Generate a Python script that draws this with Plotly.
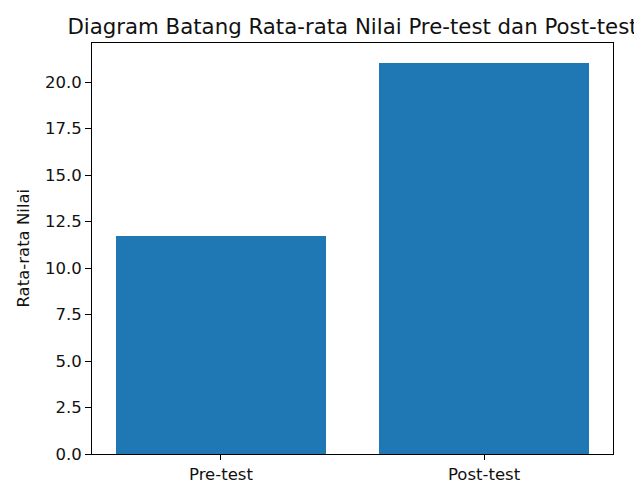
import plotly.graph_objects as go

categories = ["Pre-test", "Post-test"]
values = [11.73, 21.05]
y_ticks = [0, 2.5, 5, 7.5, 10, 12.5, 15, 17.5, 20]
title_text = "Diagram Batang Rata-rata Nilai Pre-test dan Post-test"
y_label = "Rata-rata Nilai"

fig = go.Figure()
fig.add_trace(go.Bar(x=[0, 1], y=values, width=0.8,
                     marker=dict(color="#1f77b4", line=dict(width=0))))

font = "DejaVu Sans"
tick_size = 16.5
fig.update_layout(
    width=634, height=481,
    margin=dict(l=92, r=21, t=43, b=27, autoexpand=False),
    paper_bgcolor="white", plot_bgcolor="white",
    showlegend=False,
    font=dict(family=font, size=tick_size, color="black"),
    title=dict(text=title_text, automargin=False,
               x=0.5, xref="paper", xanchor="center",
               y=1, yref="paper", yanchor="bottom", pad=dict(b=9),
               font=dict(family=font, size=21.3, color="#111111")),
    bargap=0,
)
fig.add_annotation(text=y_label, textangle=-90, showarrow=False,
                   xref="paper", yref="paper", x=0, y=0.5,
                   xanchor="center", yanchor="middle", xshift=-69,
                   font=dict(family=font, size=tick_size, color="#111111"))
fig.update_xaxes(
    automargin=False,
    range=[-0.49, 1.49], tickmode="array", tickvals=[0, 1], ticktext=categories,
    showgrid=False, zeroline=False, showline=True, linecolor="black", linewidth=1, mirror=True,
    ticks="outside", ticklen=5, tickcolor="black", tickwidth=1,
    tickfont=dict(family=font, size=tick_size, color="#111111"),
)
fig.update_yaxes(
    automargin=False,
    range=[0, 22.1], tickmode="array", tickvals=y_ticks, ticktext=[f"{v:.1f}" for v in y_ticks],
    showgrid=False, zeroline=False, showline=True, linecolor="black", linewidth=1, mirror=True,
    ticks="outside", ticklen=6, tickcolor="black", tickwidth=1,
    tickfont=dict(family=font, size=tick_size, color="#111111"),
)
fig.write_html("out.html", config={"displayModeBar": False},
               post_script="document.body.style.margin='0';document.body.style.overflow='hidden';")
